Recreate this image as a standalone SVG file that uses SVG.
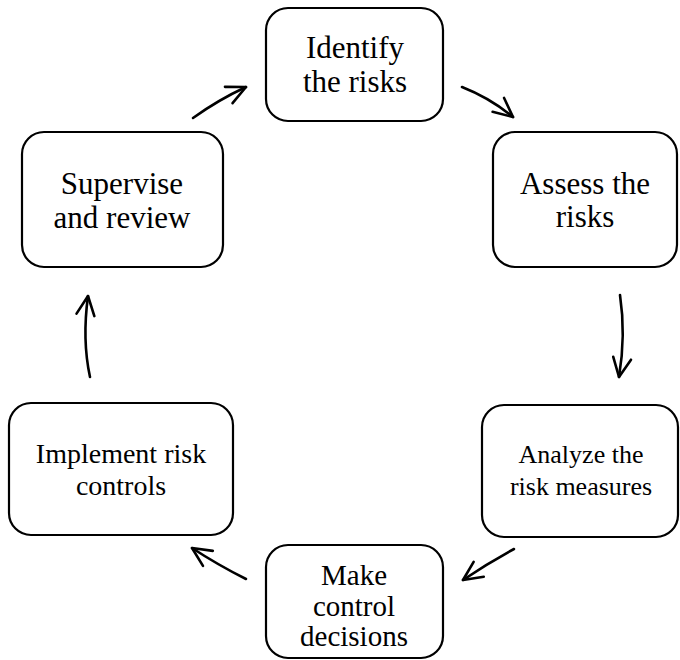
<svg xmlns="http://www.w3.org/2000/svg" width="680" height="660" viewBox="0 0 680 660">
<style>
.box{fill:#fff;stroke:#000;stroke-width:2.2}
.t{font-family:"Liberation Serif","Times New Roman",serif;font-size:31px;fill:#000;text-anchor:middle}
.m{font-size:29px}
.s{font-size:26px}
.c{fill:none;stroke:#000;stroke-width:2.6;stroke-linecap:round;marker-end:url(#ah)}
</style>
<defs>
<marker id="ah" markerUnits="userSpaceOnUse" markerWidth="30" markerHeight="30" viewBox="-25 -15 30 30" refX="0" refY="0" orient="auto">
<path d="M-19,-9 L0,0 L-19,9" fill="none" stroke="#000" stroke-width="2.6" stroke-linecap="round" stroke-linejoin="round"/>
</marker>
</defs>
<rect width="680" height="660" fill="#fff"/>
<g id="identify"><rect class="box" x="266" y="8" width="177" height="113" rx="22"/><text class="t" x="355" y="58">Identify</text><text class="t" x="355" y="92">the risks</text></g>
<g id="assess"><rect class="box" x="493" y="132" width="184" height="135" rx="22"/><text class="t" x="585" y="194">Assess the</text><text class="t" x="585" y="227">risks</text></g>
<g id="analyze"><rect class="box" x="482" y="405" width="196" height="132" rx="22"/><text class="t s" x="581" y="463">Analyze the</text><text class="t s" x="581" y="495">risk measures</text></g>
<g id="make"><rect class="box" x="266" y="545" width="177" height="113" rx="22"/><text class="t m" x="354" y="585">Make</text><text class="t m" x="354" y="616">control</text><text class="t m" x="354" y="646">decisions</text></g>
<g id="implement"><rect class="box" x="9" y="403" width="224" height="132" rx="22"/><text class="t" style="font-size:28px" x="121" y="463">Implement risk</text><text class="t" style="font-size:28px" x="121" y="495">controls</text></g>
<g id="supervise"><rect class="box" x="22" y="132" width="201" height="135" rx="22"/><text class="t" x="122" y="194">Supervise</text><text class="t" x="122" y="228">and review</text></g>
<g id="connectors">
<path class="c" d="M193,118 Q218,100 246,87"/>
<path class="c" d="M462,87 Q490,98 513,117"/>
<path class="c" d="M620,295 Q626,335 619,377"/>
<path class="c" d="M514,549 Q488,563 463,580"/>
<path class="c" d="M246,579 Q218,565 192,548"/>
<path class="c" d="M90,377 Q82,340 88,296"/>
</g>
</svg>
